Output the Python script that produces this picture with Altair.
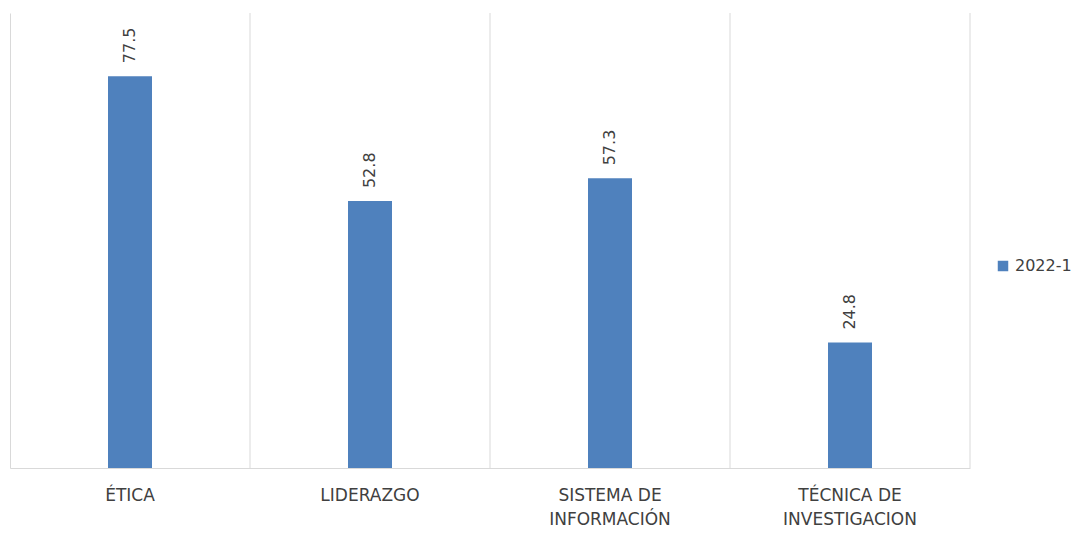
import altair as alt
import pandas as pd

categories = ["ÉTICA", "LIDERAZGO", "SISTEMA DE INFORMACIÓN", "TÉCNICA DE INVESTIGACION"]
values = [77.5, 52.8, 57.3, 24.8]
series = ["2022-1", "2022-1", "2022-1", "2022-1"]

df = pd.DataFrame({"cat": categories, "val": values, "serie": series})

FONT = "DejaVu Sans"
GRID = "#d9d9d9"
TXT = "#404040"

xaxis = alt.Axis(title=None, labelAngle=0, labelAlign="center", bandPosition=0.5,
                 ticks=False, domain=True, grid=False,
                 domainColor=GRID, labelFont=FONT, labelFontSize=17,
                 labelColor=TXT, labelPadding=19, labelLineHeight=24,
                 labelExpr="split(replace(datum.label, 'DE ', 'DE|'), '|')")
xscale = alt.Scale(paddingInner=0, paddingOuter=0)
yaxis = alt.Axis(title=None, labels=False, ticks=False, grid=False,
                 domain=True, domainColor=GRID, minExtent=0, maxExtent=0)
yscale = alt.Scale(domain=[0, 90], nice=False)

base = alt.Chart(df)

bars = base.mark_bar(size=44).encode(
    x=alt.X("cat:N", sort=categories, scale=xscale, axis=xaxis),
    y=alt.Y("val:Q", scale=yscale, axis=yaxis),
    color=alt.Color("serie:N", scale=alt.Scale(range=["#4F81BD"]),
                    legend=alt.Legend(title=None, orient="none", legendX=985, legendY=245,
                                      symbolType="square", symbolSize=110,
                                      symbolStrokeWidth=0, labelFont=FONT,
                                      labelFontSize=16, labelColor=TXT))
)

rules = base.mark_rule(color=GRID, strokeWidth=1).encode(
    x=alt.X("cat:N", sort=categories, scale=xscale, axis=xaxis, bandPosition=1)
)

labels = base.mark_text(angle=270, align="left", baseline="middle", dx=13,
                        font=FONT, fontSize=16, color=TXT).encode(
    x=alt.X("cat:N", sort=categories, scale=xscale, axis=xaxis),
    y=alt.Y("val:Q", scale=yscale, axis=yaxis),
    text=alt.Text("val:Q", format=".1f")
)

chart = alt.layer(bars, rules, labels).properties(
    width=960, height=455, background="white",
    padding={"left": 2, "top": 4, "right": 0, "bottom": 0}
).configure_view(strokeWidth=0, stroke="transparent")

chart.save("out.html", embed_options={"renderer": "svg", "actions": False})
